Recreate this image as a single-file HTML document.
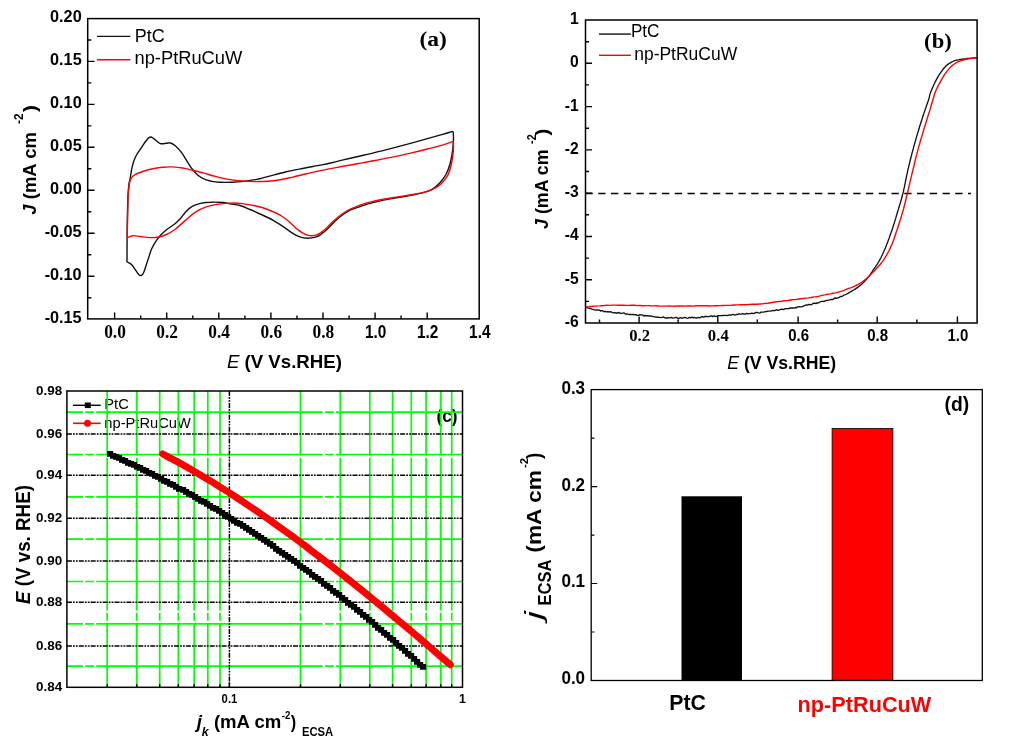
<!DOCTYPE html>
<html><head><meta charset="utf-8"><title>Figure</title>
<style>
html,body{margin:0;padding:0;background:#fff}
svg{display:block}
text{white-space:pre}
.s{font-family:"Liberation Sans",sans-serif}
.r{font-family:"Liberation Serif",serif}
.k{stroke:#111;stroke-width:1.4;fill:none;stroke-linejoin:round}
.rd{stroke:#f00;stroke-width:1.4;fill:none;stroke-linejoin:round}
.fr{stroke:#000;stroke-width:1.5;fill:none}
.fr2{stroke:#000;stroke-width:1.3;fill:none}
.tk{stroke:#000;stroke-width:1.4;fill:none}
</style></head><body>
<svg width="1024" height="748" viewBox="0 0 1024 748">
<rect width="1024" height="748" fill="#fff"/>
<g id="pa">
<path d="M127.0 262.0C127.0 258.3 127.0 247.8 127.1 240.0C127.2 232.2 127.2 222.5 127.4 215.0C127.6 207.5 127.7 200.2 128.0 195.0C128.3 189.8 128.7 186.7 129.0 184.0C129.3 181.3 129.6 181.7 130.1 179.0C130.6 176.3 131.2 171.2 132.0 167.7C132.8 164.1 133.5 161.0 135.1 157.7C136.7 154.3 139.3 150.8 141.4 147.6C143.5 144.4 146.1 140.6 147.7 138.8C149.3 137.0 149.8 137.0 150.8 137.0C151.9 137.0 152.4 137.7 154.0 138.8C155.6 139.9 158.2 142.9 160.3 143.6C162.4 144.3 164.8 143.3 166.5 143.2C168.2 143.1 168.8 142.6 170.3 143.0C171.8 143.4 173.4 144.2 175.3 145.8C177.2 147.4 179.5 149.9 181.6 152.7C183.7 155.5 186.2 160.1 187.9 162.7C189.6 165.3 190.0 166.3 191.7 168.4C193.4 170.5 195.6 173.4 197.9 175.3C200.2 177.2 202.6 178.6 205.5 179.7C208.4 180.8 212.2 181.4 215.5 181.9C218.8 182.4 221.8 182.4 225.6 182.4C229.3 182.4 233.1 182.4 238.0 181.9C242.9 181.4 251.2 180.2 255.1 179.6C259.0 179.0 258.1 179.2 261.3 178.4C264.5 177.6 269.9 176.0 274.1 174.9C278.3 173.7 282.4 172.7 286.5 171.7C290.7 170.7 294.9 169.9 299.1 169.1C303.3 168.2 307.5 167.5 311.7 166.7C315.9 166.0 320.6 165.2 324.2 164.4C327.7 163.7 329.8 163.3 332.9 162.5C336.1 161.7 339.0 160.9 343.2 159.9C347.3 158.9 353.4 157.5 358.0 156.5C362.6 155.4 365.5 154.9 370.7 153.6C376.0 152.4 383.4 150.5 389.7 148.9C396.0 147.2 402.2 145.6 408.5 143.9C414.8 142.2 421.7 140.3 427.4 138.7C433.0 137.1 438.2 135.6 442.5 134.4C446.8 133.2 451.3 131.8 453.1 131.3" class="k"/>
<path d="M453.1 131.3C453.2 132.6 453.6 135.5 453.5 138.8C453.4 142.2 453.1 147.2 452.5 151.4C451.9 155.6 451.1 160.2 450.0 164.0C448.9 167.8 447.9 170.9 446.2 174.0C444.5 177.1 442.2 180.3 439.9 182.8C437.6 185.3 435.3 187.4 432.4 189.1C429.5 190.8 426.4 191.8 422.4 192.9C418.4 194.0 412.9 194.9 408.5 195.7C404.1 196.6 400.2 197.2 396.0 197.9C391.8 198.6 387.7 199.3 383.5 200.1C379.3 201.0 374.9 202.1 370.9 203.2C366.9 204.3 362.9 205.7 359.5 206.8C356.1 207.9 353.3 208.6 350.6 209.9C347.9 211.2 345.6 212.7 343.1 214.5C340.6 216.3 338.0 218.5 335.5 220.8C333.0 223.1 330.5 226.1 328.0 228.4C325.5 230.7 322.6 233.1 320.5 234.6C318.4 236.1 317.5 236.6 315.4 237.2C313.3 237.8 310.4 238.2 307.9 238.2C305.4 238.2 302.9 238.0 300.4 237.2C297.9 236.4 295.5 235.1 292.8 233.4C290.1 231.7 287.1 229.2 284.0 227.1C280.9 225.0 277.8 222.9 274.0 220.8C270.2 218.7 265.4 216.4 261.4 214.5C257.4 212.6 253.7 211.0 250.1 209.5C246.5 208.0 243.3 206.4 240.0 205.5C236.7 204.6 232.8 204.4 230.0 203.9C227.2 203.4 226.3 202.8 223.1 202.5C219.8 202.2 214.3 202.0 210.5 202.2C206.7 202.3 203.6 202.7 200.5 203.4C197.4 204.1 194.2 205.1 191.7 206.6C189.2 208.1 187.3 210.2 185.4 212.2C183.5 214.2 182.1 216.6 180.4 218.5C178.7 220.4 177.6 221.6 175.3 223.5C173.0 225.4 169.0 227.8 166.5 229.8C164.0 231.8 162.2 233.4 160.3 235.5C158.4 237.6 156.7 240.1 155.2 242.4C153.7 244.7 152.8 246.3 151.5 249.3C150.2 252.3 149.0 256.8 147.7 260.6C146.4 264.4 144.9 269.4 143.9 271.9C142.9 274.4 142.2 274.9 141.4 275.4C140.6 275.9 140.0 275.7 138.9 274.7C137.8 273.7 136.3 271.1 135.1 269.4C133.8 267.7 132.8 265.6 131.4 264.4C130.1 263.2 127.7 262.4 127.0 262.0" class="k"/>
<path d="M127.2 238.0C127.3 234.8 127.4 226.2 127.6 219.1C127.8 212.0 127.9 201.4 128.2 195.4C128.5 189.4 129.0 185.7 129.5 182.8C130.0 179.9 130.5 179.2 131.4 177.8C132.3 176.4 133.2 175.7 135.1 174.6C137.0 173.5 139.8 172.5 142.7 171.5C145.6 170.5 149.4 169.5 152.8 168.8C156.2 168.1 159.5 167.5 162.8 167.2C166.2 166.9 169.5 166.8 172.8 166.9C176.1 167.1 179.5 167.5 182.8 168.0C186.2 168.6 189.5 169.5 192.9 170.3C196.3 171.1 199.2 171.9 203.0 172.9C206.7 173.9 211.7 175.4 215.5 176.4C219.3 177.4 221.9 178.2 225.7 178.9C229.4 179.6 233.1 180.2 238.0 180.7C243.0 181.1 250.2 181.5 255.1 181.6C260.0 181.6 263.5 181.5 267.7 181.2C271.9 180.9 276.0 180.4 280.2 179.7C284.4 179.0 288.6 178.0 292.8 177.1C297.0 176.2 301.2 175.0 305.4 174.0C309.6 173.0 313.8 172.0 317.9 171.1C322.1 170.2 326.3 169.4 330.5 168.6C334.7 167.8 338.5 167.1 343.1 166.3C347.7 165.5 353.4 164.4 358.0 163.5C362.7 162.7 365.5 162.3 370.8 161.3C376.0 160.3 383.4 158.9 389.7 157.6C396.0 156.4 402.2 155.1 408.4 153.6C414.7 152.2 421.7 150.5 427.4 149.0C433.1 147.6 438.2 146.4 442.5 145.1C446.8 143.8 451.6 142.0 453.4 141.4" class="rd"/>
<path d="M453.4 141.4C453.4 143.1 453.6 147.6 453.3 151.4C453.0 155.2 452.3 160.0 451.4 164.0C450.5 168.0 449.4 172.1 447.7 175.3C446.0 178.5 443.7 181.2 441.4 183.4C439.1 185.7 436.9 187.3 433.7 188.8C430.5 190.3 426.6 191.5 422.4 192.6C418.2 193.7 412.9 194.4 408.5 195.2C404.1 196.0 400.2 196.6 396.0 197.2C391.8 197.9 387.6 198.4 383.4 199.2C379.3 199.9 374.9 200.8 370.9 201.9C366.9 202.9 362.9 204.2 359.5 205.3C356.2 206.5 353.6 207.6 350.9 208.9C348.1 210.2 346.1 211.2 343.1 213.3C340.1 215.4 335.9 218.9 333.0 221.5C330.1 224.1 328.0 226.9 325.5 229.0C323.0 231.1 320.2 233.2 317.9 234.3C315.6 235.4 313.8 235.7 311.7 235.7C309.6 235.7 307.7 235.3 305.4 234.3C303.1 233.3 300.3 231.5 297.8 229.6C295.3 227.7 293.2 225.1 290.3 222.7C287.4 220.3 284.1 217.4 280.3 215.2C276.5 213.0 271.9 211.1 267.7 209.5C263.5 207.9 259.3 206.8 255.1 205.8C250.9 204.8 246.8 204.1 242.6 203.6C238.4 203.1 234.3 203.0 230.0 203.1C225.7 203.2 220.9 203.7 216.8 204.4C212.7 205.1 209.1 205.9 205.5 207.2C201.9 208.5 198.8 210.0 195.4 212.2C192.1 214.4 188.8 217.6 185.4 220.4C182.1 223.2 178.5 226.8 175.3 229.2C172.2 231.5 169.2 233.2 166.5 234.5C163.8 235.8 161.7 236.5 159.0 237.0C156.3 237.5 153.3 237.7 150.2 237.6C147.1 237.5 143.1 236.8 140.2 236.5C137.3 236.2 134.8 235.4 132.6 235.7C130.4 235.9 128.1 237.6 127.2 238.0" class="rd"/>
<rect x="87.7" y="18.6" width="391.5" height="300.3" class="fr"/>
<path d="M114.6 318.9v-6.5M140.7 318.9v-3.5M166.7 318.9v-6.5M192.8 318.9v-3.5M218.8 318.9v-6.5M244.9 318.9v-3.5M270.9 318.9v-6.5M297.0 318.9v-3.5M323.0 318.9v-6.5M349.1 318.9v-3.5M375.1 318.9v-6.5M401.1 318.9v-3.5M427.2 318.9v-6.5M87.7 297.7h3.6M87.7 276.2h6.8M87.7 254.7h3.6M87.7 233.2h6.8M87.7 211.8h3.6M87.7 190.3h6.8M87.7 168.8h3.6M87.7 147.3h6.8M87.7 125.9h3.6M87.7 104.4h6.8M87.7 82.9h3.6M87.7 61.4h6.8M87.7 40.0h3.6" class="tk"/>
<text transform="translate(50.05 21.70) scale(0.9450 1)"><tspan class="s" font-size="17.2" font-weight="bold">0.20</tspan></text>
<text transform="translate(50.05 65.45) scale(0.9450 1)"><tspan class="s" font-size="17.2" font-weight="bold">0.15</tspan></text>
<text transform="translate(50.05 108.40) scale(0.9450 1)"><tspan class="s" font-size="17.2" font-weight="bold">0.10</tspan></text>
<text transform="translate(50.05 151.35) scale(0.9450 1)"><tspan class="s" font-size="17.2" font-weight="bold">0.05</tspan></text>
<text transform="translate(50.05 194.30) scale(0.9450 1)"><tspan class="s" font-size="17.2" font-weight="bold">0.00</tspan></text>
<text transform="translate(44.64 237.25) scale(0.9450 1)"><tspan class="s" font-size="17.2" font-weight="bold">-0.05</tspan></text>
<text transform="translate(44.64 280.20) scale(0.9450 1)"><tspan class="s" font-size="17.2" font-weight="bold">-0.10</tspan></text>
<text transform="translate(44.64 323.15) scale(0.9450 1)"><tspan class="s" font-size="17.2" font-weight="bold">-0.15</tspan></text>
<text transform="translate(104.15 338.00) scale(0.9384 1)"><tspan class="r" font-size="18.5" font-weight="bold">0.0</tspan></text>
<text transform="translate(156.25 338.00) scale(0.9384 1)"><tspan class="r" font-size="18.5" font-weight="bold">0.2</tspan></text>
<text transform="translate(208.35 338.00) scale(0.9384 1)"><tspan class="r" font-size="18.5" font-weight="bold">0.4</tspan></text>
<text transform="translate(260.45 338.00) scale(0.9384 1)"><tspan class="r" font-size="18.5" font-weight="bold">0.6</tspan></text>
<text transform="translate(312.55 338.00) scale(0.9384 1)"><tspan class="r" font-size="18.5" font-weight="bold">0.8</tspan></text>
<text transform="translate(364.90 338.00) scale(0.8798 1)"><tspan class="s" font-size="17.5" font-weight="bold">1.0</tspan></text>
<text transform="translate(417.00 338.00) scale(0.8798 1)"><tspan class="s" font-size="17.5" font-weight="bold">1.2</tspan></text>
<text transform="translate(469.10 338.00) scale(0.8798 1)"><tspan class="s" font-size="17.5" font-weight="bold">1.4</tspan></text>
<path d="M97 36.4h33.3" class="k"/><path d="M97 59.8h33.3" class="rd"/>
<text transform="translate(134.70 41.70) scale(0.9469 1)"><tspan class="s" font-size="19.0">PtC</tspan></text>
<text transform="translate(134.50 64.40) scale(0.9633 1)"><tspan class="s" font-size="19.0">np-PtRuCuW</tspan></text>
<text transform="translate(419.50 45.80) scale(1.0691 1)"><tspan class="r" font-size="22.0" font-weight="bold">(a)</tspan></text>
<text transform="translate(226.90 368.40) scale(1.0135 1)"><tspan class="s" font-size="18.4" font-style="italic">E</tspan><tspan class="s" font-size="18.4" font-weight="bold"> (V Vs.RHE)</tspan></text>
<text transform="translate(36.30 214.70) rotate(-90) scale(1.0003 1)"><tspan class="s" font-size="18.5" font-weight="bold" font-style="italic">J</tspan><tspan class="s" font-size="18.5" font-weight="bold"> (mA cm</tspan></text>
<text transform="translate(22.80 124.00) rotate(-90) scale(0.9348 1)"><tspan class="s" font-size="12.5" font-weight="bold">-2</tspan></text>
<text transform="translate(36.30 112.00) rotate(-90) scale(1.1380 1)"><tspan class="s" font-size="18.5" font-weight="bold">)</tspan></text>
</g>
<g id="pb">
<path d="M585.5 193.4H971" stroke="#000" stroke-width="1.5" stroke-dasharray="7.3 5.45" fill="none"/>
<path d="M585.6 307.1L586.5 307.4L587.6 307.8L589.1 308.3L590.5 308.5L592.0 309.2L593.2 309.4L594.3 309.9L595.6 310.1L597.2 309.8L599.5 310.1L600.5 311.1L601.5 310.6L602.6 310.7L603.8 311.7L605.1 311.3L606.4 311.9L607.8 311.7L609.2 312.0L610.6 311.6L612.0 312.3L613.5 312.8L614.9 312.6L616.3 313.0L617.7 313.0L619.0 312.5L620.3 313.4L621.6 313.4L622.9 313.2L624.2 313.0L625.5 314.1L626.8 313.8L628.1 314.2L629.5 314.5L630.8 314.4L632.1 314.7L633.4 314.3L634.7 314.9L636.0 314.6L637.3 315.3L638.6 315.3L639.9 314.6L641.2 314.8L642.5 315.0L643.8 316.0L645.1 315.5L646.4 315.9L647.7 315.7L649.0 316.0L650.3 316.0L651.6 316.1L652.9 316.5L654.2 316.7L655.5 317.1L656.8 317.0L658.1 317.4L659.4 317.4L660.7 317.6L662.0 317.4L663.3 316.9L664.6 317.8L665.9 318.0L667.2 318.0L668.6 317.7L669.9 317.9L671.2 317.4L672.5 318.1L673.8 317.9L675.1 317.6L676.4 317.4L677.7 318.3L679.0 318.5L680.3 317.5L681.6 318.3L682.9 317.8L684.2 317.5L685.5 317.7L686.8 318.2L688.1 318.3L689.4 317.3L690.7 317.9L692.0 317.2L693.3 317.9L694.6 317.4L695.9 318.0L697.2 318.0L698.5 317.4L699.8 317.9L701.1 317.0L702.4 316.7L703.7 317.2L705.0 316.4L706.3 316.5L707.6 316.6L708.9 316.7L710.2 316.1L711.5 315.8L712.8 316.6L714.1 315.9L715.4 316.5L716.7 316.3L718.0 315.7L719.3 315.7L720.6 315.6L721.9 315.7L723.2 315.5L724.5 315.4L725.8 315.4L727.2 315.6L728.5 315.1L729.8 314.9L731.1 315.1L732.4 314.5L733.7 314.5L735.0 315.1L736.3 314.5L737.6 314.5L738.9 313.8L740.2 314.1L741.4 314.2L742.7 313.5L743.9 314.1L745.2 314.0L746.5 313.3L747.8 313.9L749.0 313.6L750.4 313.7L751.7 313.2L753.0 313.5L754.4 313.4L755.8 312.5L757.1 312.4L758.4 312.9L759.7 313.1L761.1 312.1L762.4 312.1L763.8 312.1L765.2 311.6L766.6 311.5L768.0 311.2L769.4 311.1L770.8 311.1L772.2 310.6L773.6 310.5L774.9 310.7L776.3 309.7L777.5 310.2L778.8 310.2L780.3 309.5L781.8 309.2L783.2 309.6L784.7 308.8L786.1 308.6L787.5 308.6L788.9 308.7L790.3 307.9L791.6 308.0L792.9 307.8L794.1 308.1L795.4 307.5L796.6 307.8L797.7 306.8L799.4 306.7L800.9 306.8L802.4 306.7L803.7 305.9L805.1 305.4L806.3 304.9L807.6 305.1L808.9 304.4L810.3 304.7L811.7 304.5L813.1 303.4L814.5 303.2L815.9 303.5L817.2 303.0L818.6 302.8L820.0 302.0L821.4 301.4L822.8 301.3L824.2 301.5L825.6 300.6L827.0 300.4L828.4 300.2L829.8 299.8L831.2 299.5L832.6 299.6L834.0 298.5L835.4 298.0L836.7 298.4L837.9 297.8L839.2 297.4L840.5 296.5L841.8 296.3L843.1 295.8L844.3 294.8L845.6 294.6L846.7 294.0L847.9 293.4L849.1 292.7L850.3 292.0L851.5 291.3L852.6 290.7L853.7 290.0L854.8 289.4L855.9 288.6L856.9 287.9L858.0 287.1L859.0 286.3L860.1 285.4L861.1 284.6L862.1 283.7L863.1 282.8L864.0 281.8L865.0 280.9L865.9 279.9L866.8 278.9L867.7 277.9L868.5 276.8L869.4 275.7L870.2 274.6L870.9 273.4L871.7 272.3L872.5 271.2L873.2 270.0L874.0 268.9L874.7 267.8L875.5 266.8L876.2 265.7L876.9 264.7L877.6 263.6L878.2 262.5L878.9 261.4L879.6 260.2L880.3 258.9L880.9 257.8L881.4 256.7L882.0 255.5L882.6 254.3L883.1 253.0L883.7 251.8L884.2 250.5L884.8 249.2L885.4 247.8L885.9 246.4L886.5 245.0L886.9 243.9L887.4 242.7L887.9 241.5L888.3 240.2L888.8 239.0L889.3 237.7L889.7 236.4L890.2 235.1L890.6 233.8L891.1 232.5L891.5 231.2L892.0 230.0L892.4 228.7L892.8 227.5L893.2 226.2L893.6 224.9L894.0 223.7L894.4 222.4L894.8 221.2L895.2 219.9L895.6 218.7L895.9 217.4L896.3 216.2L896.7 214.9L897.0 213.7L897.4 212.4L897.8 211.1L898.2 209.9L898.5 208.7L898.9 207.5L899.3 206.3L899.6 205.1L900.0 203.9L900.4 202.7L900.7 201.5L901.1 200.2L901.5 199.0L901.8 197.7L902.2 196.3L902.5 194.9L902.9 193.5L903.2 192.3L903.5 191.2L903.7 189.9L904.0 188.7L904.3 187.4L904.5 186.1L904.8 184.8L905.1 183.4L905.4 182.1L905.6 180.8L905.9 179.4L906.2 178.1L906.4 176.8L906.7 175.4L907.0 174.1L907.3 172.9L907.5 171.6L907.8 170.4L908.1 169.0L908.5 167.6L908.8 166.1L909.1 164.8L909.5 163.4L909.8 162.0L910.1 160.7L910.5 159.3L910.8 158.0L911.1 156.7L911.5 155.4L911.8 154.1L912.1 152.8L912.5 151.6L912.8 150.3L913.2 149.0L913.5 147.6L913.9 146.3L914.2 145.1L914.6 143.8L914.9 142.5L915.3 141.3L915.7 140.0L916.0 138.8L916.4 137.6L916.7 136.3L917.1 135.1L917.4 133.9L917.8 132.7L918.2 131.4L918.6 130.1L919.0 128.8L919.3 127.6L919.7 126.3L920.1 125.0L920.5 123.8L920.9 122.5L921.3 121.3L921.7 120.1L922.1 118.8L922.5 117.6L922.9 116.3L923.3 115.0L923.8 113.7L924.2 112.3L924.7 111.0L925.2 109.6L925.7 108.2L926.1 106.9L926.6 105.6L927.0 104.3L927.5 103.1L927.8 102.0L928.2 101.0L928.5 100.0L929.1 98.1L929.4 96.7L929.6 95.6L929.9 94.4L930.4 92.9L930.8 91.8L931.3 90.6L931.8 89.4L932.4 88.0L933.0 86.7L933.6 85.3L934.2 84.0L934.8 82.8L935.4 81.6L936.1 80.2L936.8 78.9L937.5 77.6L938.2 76.3L939.0 75.1L939.7 74.0L940.5 72.8L941.3 71.6L942.2 70.5L943.0 69.3L943.9 68.2L944.8 67.2L945.7 66.2L946.7 65.3L947.9 64.4L949.1 63.5L950.3 62.8L951.6 62.1L952.9 61.5L954.3 60.9L955.6 60.4L957.0 60.1L958.3 59.8L959.7 59.5L961.3 59.3L963.1 59.0L964.4 58.8L965.8 58.7L967.4 58.5L969.0 58.4L970.7 58.2L972.3 58.1L973.8 58.0L975.1 57.9L976.2 57.8L977.1 57.7" class="k" style="stroke-width:1.35"/>
<path d="M585.6 307.1L587.4 306.9L589.9 306.6L592.9 306.3L596.1 306.1L599.5 305.9L601.9 305.7L604.4 305.5L606.9 305.2L609.7 305.4L612.5 305.1L615.6 305.1L619.0 305.3L621.3 305.2L623.7 305.2L626.3 305.4L629.0 305.4L631.7 305.3L634.5 305.3L637.3 305.6L640.1 305.5L642.9 305.7L645.7 305.6L648.4 305.6L651.0 305.8L653.6 305.9L656.1 305.7L658.7 306.0L661.2 306.1L663.7 306.1L666.3 306.1L669.0 305.9L671.8 306.1L674.7 306.2L677.7 305.9L680.0 306.0L682.5 306.0L685.0 306.1L687.7 306.0L690.3 306.0L693.1 306.1L695.8 305.8L698.6 305.8L701.3 305.8L704.1 305.8L706.7 305.7L709.4 306.0L711.9 305.9L714.4 305.6L716.7 305.7L719.8 305.6L722.8 305.5L725.8 305.4L728.7 305.4L731.5 305.3L734.3 305.0L736.9 304.9L739.4 304.8L741.7 304.6L743.9 304.7L746.0 304.7L749.7 304.4L752.5 304.2L754.8 304.2L757.1 304.2L760.0 304.0L762.4 303.9L765.0 303.4L767.7 303.2L770.5 302.7L773.3 302.2L776.1 301.8L778.8 301.5L781.5 301.2L784.2 300.8L786.9 300.6L789.6 300.2L792.3 299.8L795.0 299.6L797.7 299.3L800.4 298.7L803.1 298.5L805.8 298.1L808.4 297.9L811.1 297.5L813.8 296.9L816.5 296.7L819.3 296.1L822.1 295.4L824.9 294.9L827.7 294.2L830.5 293.9L833.0 293.3L835.4 292.9L838.3 292.1L841.0 291.3L843.4 290.6L845.7 289.7L847.9 288.7L850.6 287.9L853.2 286.9L855.6 285.7L858.0 284.5L860.3 283.2L862.4 281.7L864.6 280.1L866.8 278.3L868.7 276.6L870.7 274.6L872.7 272.5L874.7 270.5L876.5 268.5L878.5 266.3L880.4 264.2L882.2 261.9L884.0 259.3L885.3 257.2L886.6 255.0L887.9 252.7L889.2 250.2L890.4 247.6L891.6 245.0L892.6 242.7L893.5 240.2L894.4 237.7L895.3 235.1L896.1 232.5L897.0 230.0L897.8 227.5L898.7 224.7L899.6 222.0L900.5 219.3L901.3 216.6L902.1 213.9L902.9 211.1L903.6 208.7L904.2 206.3L904.8 203.9L905.4 201.5L906.0 199.0L906.6 196.3L907.3 193.5L907.9 191.2L908.5 188.7L909.1 186.1L909.7 183.4L910.3 180.8L911.0 178.1L911.6 175.4L912.2 172.9L912.8 170.4L913.4 167.7L914.1 165.1L914.7 162.5L915.3 160.0L915.9 157.5L916.6 155.1L917.2 152.7L917.8 150.3L918.5 147.6L919.3 145.1L920.0 142.5L920.7 140.0L921.4 137.6L922.2 135.1L922.9 132.7L923.7 129.9L924.6 127.1L925.4 124.4L926.2 121.7L927.1 119.0L927.9 116.3L928.8 113.5L929.7 110.6L930.6 107.6L931.4 104.8L932.2 102.3L932.9 100.0L933.8 96.7L934.5 94.3L935.4 91.7L936.5 89.3L937.7 86.8L939.1 84.2L940.5 81.6L941.9 79.0L943.4 76.4L945.0 73.9L946.7 71.6L948.5 69.4L950.3 67.4L952.3 65.6L954.3 64.0L957.0 62.3L959.7 61.1L963.1 60.0L965.8 59.4L969.0 58.8L972.3 58.4L975.1 58.0L977.1 57.7" class="rd"/>
<rect x="585.5" y="20.0" width="391.6" height="303.0" class="fr"/>
<path d="M639.1 323.0v-6.5M717.8 323.0v-6.5M798.1 323.0v-6.5M877.2 323.0v-6.5M957.4 323.0v-6.5M599.5 323.0v-3.5M678.1 323.0v-3.5M757.3 323.0v-3.5M837.6 323.0v-3.5M916.9 323.0v-3.5M585.5 279.8h6.5M585.5 236.5h6.5M585.5 193.2h6.5M585.5 149.9h6.5M585.5 106.6h6.5M585.5 63.3h6.5M585.5 41.7h3.5M585.5 84.9h3.5M585.5 128.2h3.5M585.5 171.5h3.5M585.5 214.8h3.5M585.5 258.1h3.5M585.5 301.4h3.5" class="tk"/>
<text transform="translate(564.85 327.04) scale(0.9500 1)"><tspan class="s" font-size="16.5" font-weight="bold">-6</tspan></text>
<text transform="translate(564.85 283.75) scale(0.9500 1)"><tspan class="s" font-size="16.5" font-weight="bold">-5</tspan></text>
<text transform="translate(564.85 240.46) scale(0.9500 1)"><tspan class="s" font-size="16.5" font-weight="bold">-4</tspan></text>
<text transform="translate(564.85 197.17) scale(0.9500 1)"><tspan class="s" font-size="16.5" font-weight="bold">-3</tspan></text>
<text transform="translate(564.85 153.88) scale(0.9500 1)"><tspan class="s" font-size="16.5" font-weight="bold">-2</tspan></text>
<text transform="translate(564.85 110.59) scale(0.9500 1)"><tspan class="s" font-size="16.5" font-weight="bold">-1</tspan></text>
<text transform="translate(570.10 67.30) scale(0.9500 1)"><tspan class="s" font-size="16.5" font-weight="bold">0</tspan></text>
<text transform="translate(570.10 24.01) scale(0.9500 1)"><tspan class="s" font-size="16.5" font-weight="bold">1</tspan></text>
<text transform="translate(629.15 341.20) scale(0.9835 1)"><tspan class="r" font-size="17.0" font-weight="bold">0.2</tspan></text>
<text transform="translate(707.85 341.20) scale(0.9835 1)"><tspan class="r" font-size="17.0" font-weight="bold">0.4</tspan></text>
<text transform="translate(788.15 341.20) scale(0.9281 1)"><tspan class="s" font-size="16.2" font-weight="bold">0.6</tspan></text>
<text transform="translate(867.25 341.20) scale(0.9281 1)"><tspan class="s" font-size="16.2" font-weight="bold">0.8</tspan></text>
<text transform="translate(947.45 341.20) scale(0.9281 1)"><tspan class="s" font-size="16.2" font-weight="bold">1.0</tspan></text>
<path d="M599 34.1h31.9" class="k"/><path d="M599 55.3h31.9" class="rd"/>
<text transform="translate(630.90 37.20) scale(0.9027 1)"><tspan class="s" font-size="19.0">PtC</tspan></text>
<text transform="translate(634.20 59.50) scale(0.9204 1)"><tspan class="s" font-size="19.0">np-PtRuCuW</tspan></text>
<text transform="translate(924.10 47.70) scale(1.0394 1)"><tspan class="r" font-size="21.8" font-weight="bold">(b)</tspan></text>
<text transform="translate(727.30 369.00) scale(0.9597 1)"><tspan class="s" font-size="18.4" font-style="italic">E</tspan><tspan class="s" font-size="18.4" font-weight="bold"> (V Vs.RHE)</tspan></text>
<text transform="translate(547.70 228.90) rotate(-90) scale(0.9882 1)"><tspan class="s" font-size="18.0" font-weight="bold" font-style="italic">J</tspan><tspan class="s" font-size="18.0" font-weight="bold"> (mA cm</tspan></text>
<text transform="translate(535.70 143.90) rotate(-90) scale(0.8699 1)"><tspan class="s" font-size="12.4" font-weight="bold">-2</tspan></text>
<text transform="translate(547.70 135.50) rotate(-90) scale(1.1529 1)"><tspan class="s" font-size="18.0" font-weight="bold">)</tspan></text>
</g>
<g id="pc">
<text transform="translate(436.40 422.20) scale(0.9181 1)"><tspan class="s" font-size="18.8" font-weight="bold">(c)</tspan></text>
<path d="M73 405.3h27.7" stroke="#000" stroke-width="1.4"/><rect x="84.8" y="402.5" width="6" height="5.6"/>
<path d="M73 423.3h27.7" stroke="#f00" stroke-width="1.6"/><circle cx="87.5" cy="423.3" r="3.5" fill="#f00"/>
<text transform="translate(104.30 409.00) scale(0.9666 1)"><tspan class="s" font-size="15.2">PtC</tspan></text>
<text transform="translate(104.30 427.60) scale(0.9662 1)"><tspan class="s" font-size="15.2">np-PtRuCuW</tspan></text>
<g stroke="#0f0" stroke-width="1.7" fill="none" stroke-dasharray="64.5 2.2 152.9 2.2 8 2.2 200 0">
<path d="M107.2 391.0V687.3"/>
<path d="M136.8 391.0V687.3"/>
<path d="M159.7 391.0V687.3"/>
<path d="M178.3 391.0V687.3"/>
<path d="M194.2 391.0V687.3"/>
<path d="M207.8 391.0V687.3"/>
<path d="M220.0 391.0V687.3"/>
<path d="M300.5 391.0V687.3"/>
<path d="M340.3 391.0V687.3"/>
<path d="M369.8 391.0V687.3"/>
<path d="M392.6 391.0V687.3"/>
<path d="M411.3 391.0V687.3"/>
<path d="M426.1 391.0V687.3"/>
<path d="M440.8 391.0V687.3"/>
<path d="M451.7 391.0V687.3"/>
</g>
<g stroke="#0f0" stroke-width="1.7" fill="none" stroke-dasharray="16.3 2 9 2 226.5 2.2 9 2.2 200 0">
<path d="M66.9 412.2H462.5"/>
<path d="M66.9 454.5H462.5"/>
<path d="M66.9 496.8H462.5"/>
<path d="M66.9 539.1H462.5"/>
<path d="M66.9 581.5H462.5"/>
<path d="M66.9 623.8H462.5"/>
<path d="M66.9 666.1H462.5"/>
</g>
<g stroke="#000" stroke-width="1.5" fill="none" stroke-dasharray="5 1.1 1.8 1.1 1.8 1.1">
<path d="M66.9 434.0H462.5"/>
<path d="M66.9 475.3H462.5"/>
<path d="M66.9 518.2H462.5"/>
<path d="M66.9 561.0H462.5"/>
<path d="M66.9 602.3H462.5"/>
<path d="M66.9 646.0H462.5"/>
<path d="M229.4 391.0V687.3"/>
</g>
<path d="M107 451h6.2v5.8h-6.2zM110 453h6.2v5.8h-6.2zM113 454h6.2v5.8h-6.2zM116 455h6.2v5.8h-6.2zM119 457h6.2v5.8h-6.2zM122 458h6.2v5.8h-6.2zM125 460h6.2v5.8h-6.2zM128 461h6.2v5.8h-6.2zM131 462h6.2v5.8h-6.2zM134 464h6.2v5.8h-6.2zM137 465h6.2v5.8h-6.2zM140 467h6.2v5.8h-6.2zM143 468h6.2v5.8h-6.2zM146 470h6.2v5.8h-6.2zM149 471h6.2v5.8h-6.2zM152 473h6.2v5.8h-6.2zM155 474h6.2v5.8h-6.2zM158 476h6.2v5.8h-6.2zM161 478h6.2v5.8h-6.2zM164 479h6.2v5.8h-6.2zM167 481h6.2v5.8h-6.2zM170 482h6.2v5.8h-6.2zM173 484h6.2v5.8h-6.2zM176 486h6.2v5.8h-6.2zM180 487h6.2v5.8h-6.2zM183 489h6.2v5.8h-6.2zM186 491h6.2v5.8h-6.2zM189 492h6.2v5.8h-6.2zM192 494h6.2v5.8h-6.2zM195 496h6.2v5.8h-6.2zM198 498h6.2v5.8h-6.2zM201 499h6.2v5.8h-6.2zM204 501h6.2v5.8h-6.2zM207 503h6.2v5.8h-6.2zM210 505h6.2v5.8h-6.2zM213 506h6.2v5.8h-6.2zM216 508h6.2v5.8h-6.2zM219 510h6.2v5.8h-6.2zM222 512h6.2v5.8h-6.2zM225 514h6.2v5.8h-6.2zM228 516h6.2v5.8h-6.2zM231 518h6.2v5.8h-6.2zM234 520h6.2v5.8h-6.2zM237 521h6.2v5.8h-6.2zM240 523h6.2v5.8h-6.2zM243 525h6.2v5.8h-6.2zM246 527h6.2v5.8h-6.2zM249 529h6.2v5.8h-6.2zM252 531h6.2v5.8h-6.2zM255 533h6.2v5.8h-6.2zM258 535h6.2v5.8h-6.2zM261 537h6.2v5.8h-6.2zM264 539h6.2v5.8h-6.2zM267 541h6.2v5.8h-6.2zM270 543h6.2v5.8h-6.2zM273 546h6.2v5.8h-6.2zM276 548h6.2v5.8h-6.2zM279 550h6.2v5.8h-6.2zM282 552h6.2v5.8h-6.2zM285 554h6.2v5.8h-6.2zM288 556h6.2v5.8h-6.2zM291 558h6.2v5.8h-6.2zM294 560h6.2v5.8h-6.2zM297 563h6.2v5.8h-6.2zM300 565h6.2v5.8h-6.2zM303 567h6.2v5.8h-6.2zM306 569h6.2v5.8h-6.2zM309 572h6.2v5.8h-6.2zM312 574h6.2v5.8h-6.2zM315 576h6.2v5.8h-6.2zM318 578h6.2v5.8h-6.2zM321 581h6.2v5.8h-6.2zM324 583h6.2v5.8h-6.2zM327 585h6.2v5.8h-6.2zM330 588h6.2v5.8h-6.2zM333 590h6.2v5.8h-6.2zM336 592h6.2v5.8h-6.2zM339 595h6.2v5.8h-6.2zM342 597h6.2v5.8h-6.2zM345 600h6.2v5.8h-6.2zM348 602h6.2v5.8h-6.2zM351 604h6.2v5.8h-6.2zM354 607h6.2v5.8h-6.2zM357 609h6.2v5.8h-6.2zM360 612h6.2v5.8h-6.2zM363 614h6.2v5.8h-6.2zM366 617h6.2v5.8h-6.2zM369 619h6.2v5.8h-6.2zM372 622h6.2v5.8h-6.2zM375 625h6.2v5.8h-6.2zM378 627h6.2v5.8h-6.2zM381 630h6.2v5.8h-6.2zM384 632h6.2v5.8h-6.2zM387 635h6.2v5.8h-6.2zM390 637h6.2v5.8h-6.2zM393 640h6.2v5.8h-6.2zM396 643h6.2v5.8h-6.2zM399 645h6.2v5.8h-6.2zM402 648h6.2v5.8h-6.2zM405 651h6.2v5.8h-6.2zM408 653h6.2v5.8h-6.2zM411 656h6.2v5.8h-6.2zM414 659h6.2v5.8h-6.2zM417 662h6.2v5.8h-6.2zM420 664h6.2v5.8h-6.2z" fill="#000"/>
<path d="M162.8 454.0L170.0 457.8L177.2 461.7L184.4 465.6L191.6 469.7L198.7 473.9L205.9 478.2L213.1 482.6L220.3 487.1L227.5 491.6L234.7 496.3L241.9 501.0L249.1 505.8L256.2 510.7L263.4 515.6L270.6 520.7L277.8 525.8L285.0 531.0L292.2 536.2L299.4 541.5L306.6 546.9L313.7 552.4L320.9 557.9L328.1 563.4L335.3 569.1L342.5 574.7L349.7 580.5L356.9 586.2L364.1 592.0L371.2 597.9L378.4 603.8L385.6 609.8L392.8 615.7L400.0 621.8L407.2 627.8L414.4 633.9L421.6 640.0L428.7 646.1L435.9 652.3L443.1 658.5L450.3 664.7" stroke="#f00" stroke-width="7" fill="none" stroke-linecap="round"/>
<rect x="66.9" y="391.0" width="395.6" height="296.3" class="fr"/>
<path d="M107.2 687.3v-3M136.8 687.3v-3M159.7 687.3v-3M178.3 687.3v-3M194.2 687.3v-3M207.8 687.3v-3M220.0 687.3v-3M300.5 687.3v-3M340.3 687.3v-3M369.8 687.3v-3M392.6 687.3v-3M411.3 687.3v-3M426.1 687.3v-3M440.8 687.3v-3M451.7 687.3v-3M229.4 687.3v-5" class="tk"/>
<text transform="translate(36.05 394.80) scale(0.9800 1)"><tspan class="s" font-size="13.7" font-weight="bold">0.98</tspan></text>
<text transform="translate(36.05 437.80) scale(0.9800 1)"><tspan class="s" font-size="13.7" font-weight="bold">0.96</tspan></text>
<text transform="translate(36.05 479.10) scale(0.9800 1)"><tspan class="s" font-size="13.7" font-weight="bold">0.94</tspan></text>
<text transform="translate(36.05 522.00) scale(0.9800 1)"><tspan class="s" font-size="13.7" font-weight="bold">0.92</tspan></text>
<text transform="translate(36.05 564.80) scale(0.9800 1)"><tspan class="s" font-size="13.7" font-weight="bold">0.90</tspan></text>
<text transform="translate(36.05 606.10) scale(0.9800 1)"><tspan class="s" font-size="13.7" font-weight="bold">0.88</tspan></text>
<text transform="translate(36.05 649.80) scale(0.9800 1)"><tspan class="s" font-size="13.7" font-weight="bold">0.86</tspan></text>
<text transform="translate(36.05 691.10) scale(0.9800 1)"><tspan class="s" font-size="13.7" font-weight="bold">0.84</tspan></text>
<text transform="translate(221.60 703.20) scale(0.8244 1)"><tspan class="s" font-size="13.7" font-weight="bold">0.1</tspan></text>
<text transform="translate(458.88 703.20) scale(0.9000 1)"><tspan class="s" font-size="13.7" font-weight="bold">1</tspan></text>
<text transform="translate(196.70 728.00) scale(1.0040 1)"><tspan class="s" font-size="18.5" font-weight="bold" font-style="italic">j</tspan><tspan class="s" font-size="12.3" font-weight="bold" font-style="italic" dy="8.2">k</tspan><tspan class="s" font-size="18.5" font-weight="bold" dy="-8.2"> (mA cm</tspan></text>
<text transform="translate(281.70 718.60) scale(0.9203 1)"><tspan class="s" font-size="10.5" font-weight="bold">-2</tspan></text>
<text transform="translate(290.80 728.00) scale(0.8779 1)"><tspan class="s" font-size="18.5" font-weight="bold">)</tspan></text>
<text transform="translate(301.90 735.70) scale(0.9162 1)"><tspan class="s" font-size="12.3" font-weight="bold">ECSA</tspan></text>
<text transform="translate(30.10 604.00) rotate(-90) scale(0.9393 1)"><tspan class="s" font-size="20.0" font-weight="bold" font-style="italic">E</tspan><tspan class="s" font-size="20.0" font-weight="bold"> (V vs. RHE)</tspan></text>
</g>
<g id="pd">
<rect x="681.5" y="496.3" width="60.5" height="184.2" fill="#000"/>
<rect x="832.1" y="428.4" width="60.8" height="252.1" fill="#f00" stroke="#000" stroke-width="0.8"/>
<rect x="591.2" y="389.6" width="391.1" height="290.9" class="fr2"/>
<path d="M591.2 583.5h6M591.2 486.6h6M591.2 632.0h3.2M591.2 535.1h3.2M591.2 438.1h3.2" stroke="#000" stroke-width="1.1" fill="none"/>
<text transform="translate(561.40 684.40) scale(0.9368 1)"><tspan class="s" font-size="18.2" font-weight="bold">0.0</tspan></text>
<text transform="translate(561.40 587.45) scale(0.9368 1)"><tspan class="s" font-size="18.2" font-weight="bold">0.1</tspan></text>
<text transform="translate(561.40 490.50) scale(0.9368 1)"><tspan class="s" font-size="18.2" font-weight="bold">0.2</tspan></text>
<text transform="translate(561.40 393.55) scale(0.9368 1)"><tspan class="s" font-size="18.2" font-weight="bold">0.3</tspan></text>
<text transform="translate(669.30 709.60) scale(0.9658 1)"><tspan class="s" font-size="22.0" font-weight="bold">PtC</tspan></text>
<text transform="translate(797.60 712.20) scale(0.9769 1)"><tspan class="s" font-size="22.2" font-weight="bold" fill="#f00">np-PtRuCuW</tspan></text>
<text transform="translate(944.60 410.50) scale(0.9412 1)"><tspan class="s" font-size="20.5" font-weight="bold">(d)</tspan></text>
<text transform="translate(542.00 619.38) rotate(-90) scale(1.5756 1)"><tspan class="s" font-size="23.8" font-style="italic">j</tspan></text>
<text transform="translate(550.80 605.60) rotate(-90) scale(0.9221 1)"><tspan class="s" font-size="18.0" font-weight="bold">ECSA</tspan></text>
<text transform="translate(541.40 552.70) rotate(-90) scale(1.0953 1)"><tspan class="s" font-size="20.8" font-weight="bold">(mA cm</tspan></text>
<text transform="translate(527.50 468.00) rotate(-90) scale(0.9522 1)"><tspan class="s" font-size="11.8" font-weight="bold">-2</tspan></text>
<text transform="translate(541.40 459.00) rotate(-90) scale(0.9109 1)"><tspan class="s" font-size="20.8" font-weight="bold">)</tspan></text>
</g>
</svg>
</body></html>
